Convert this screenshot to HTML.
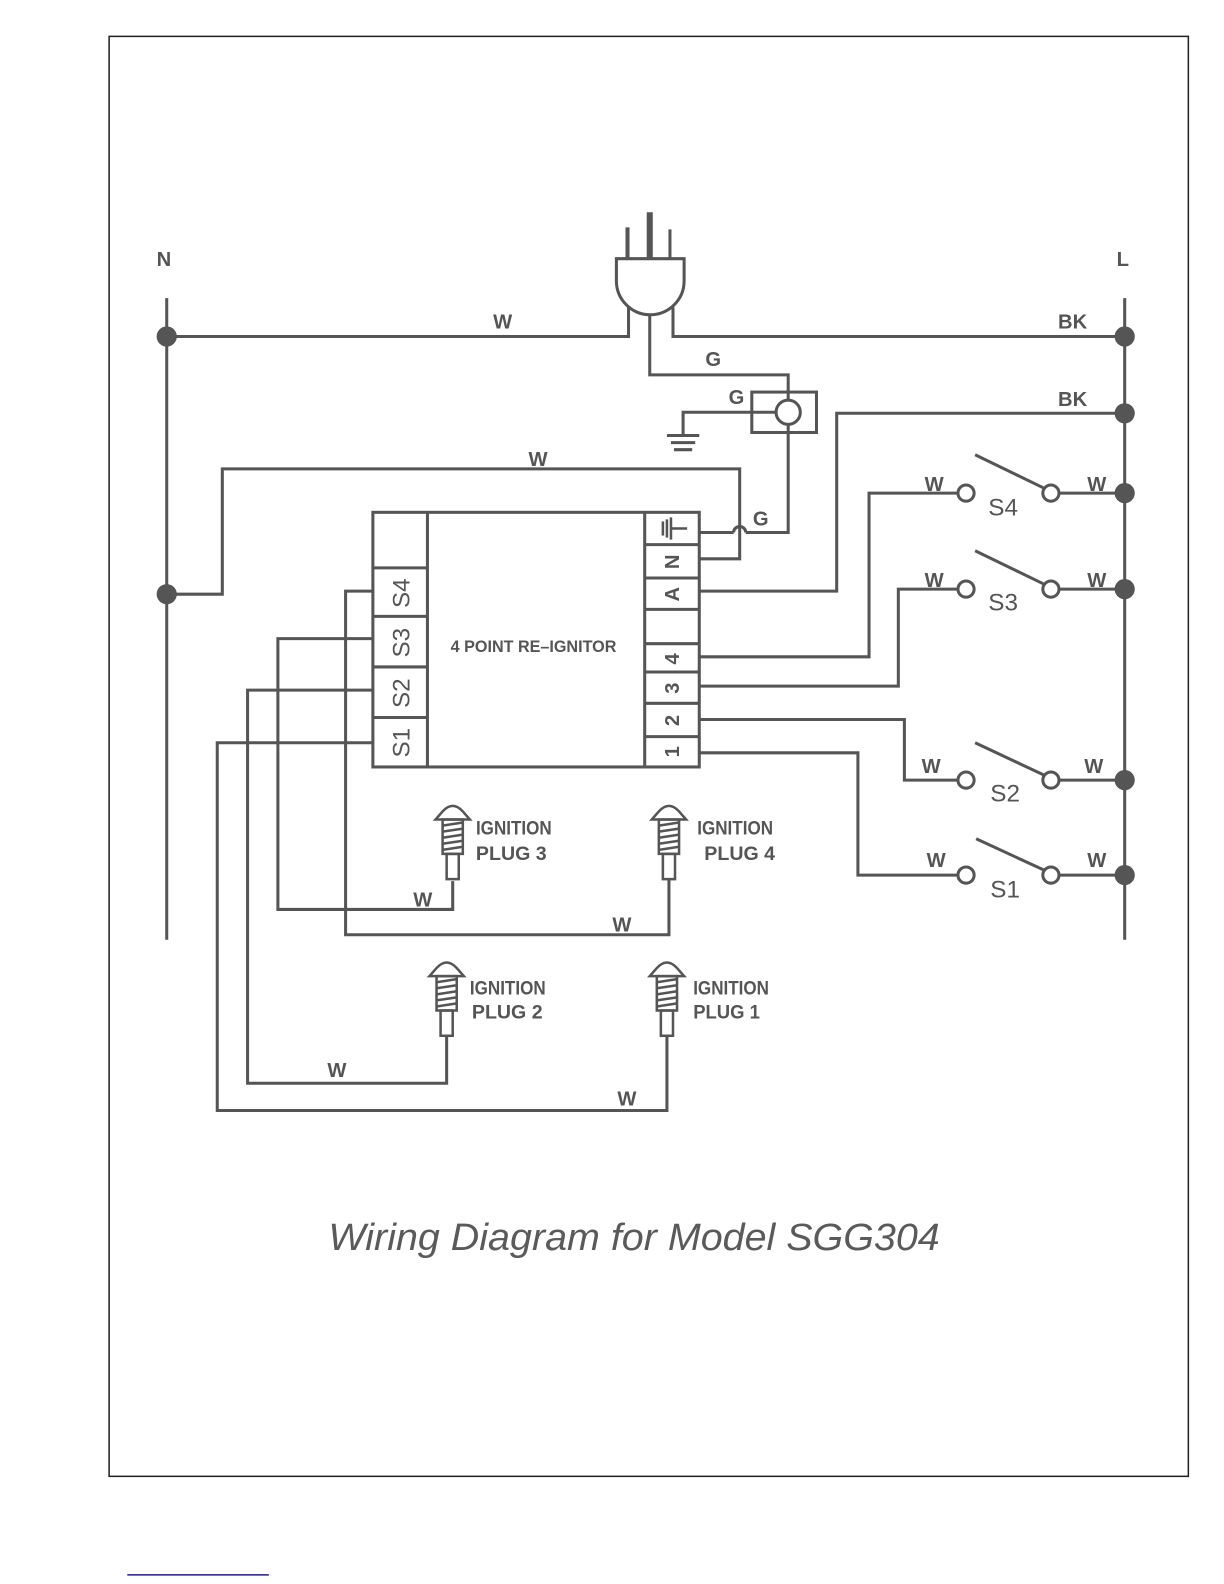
<!DOCTYPE html>
<html><head><meta charset="utf-8"><style>
html,body{margin:0;padding:0;background:#fff;}
svg{display:block;}
text{font-family:"Liberation Sans",sans-serif;font-weight:bold;fill:#555;}
</style></head><body>
<svg width="1224" height="1584" viewBox="0 0 1224 1584" xmlns="http://www.w3.org/2000/svg">
<defs>
<g id="plg" stroke="#555" stroke-width="2.5" fill="none">
<path d="M-10,5 Q0,-6 10,5 L17,13 L-17,13 Z" fill="#fff"/>
<rect x="-10" y="13" width="20" height="34"/>
<path d="M-10,19 L10,16 M-10,25 L10,22 M-10,31 L10,28 M-10,37 L10,34 M-10,43 L10,40"/>
<rect x="-6" y="47" width="12" height="25"/>
</g>
</defs>
<g transform="scale(1.0105)">
<rect x="108" y="36" width="1068" height="1425" fill="none" stroke="#222" stroke-width="1.5"/>
<line x1="126" y1="1558.5" x2="266" y2="1558.5" stroke="#1c1c88" stroke-width="1.5"/>
<g stroke="#555" stroke-width="3" fill="none">
<line x1="165" y1="295" x2="165" y2="930"/>
<line x1="1113" y1="295" x2="1113" y2="930"/>
<line x1="621" y1="225" x2="621" y2="256" stroke-width="4"/>
<line x1="643" y1="210" x2="643" y2="256" stroke-width="6"/>
<line x1="663" y1="227" x2="663" y2="256" stroke-width="3"/>
<path d="M610,256 H677 V278 A33.5,33.5 0 0 1 610,278 Z"/>
<polyline points="622,304 622,333 165,333"/>
<polyline points="666,304 666,333 1113,333"/>
<polyline points="643,312 643,371 780,371 780,396"/>
<rect x="744" y="388" width="64" height="40"/>
<circle cx="780" cy="408" r="12"/>
<polyline points="768,408 676,408 676,430"/>
<line x1="660" y1="431" x2="692" y2="431"/>
<line x1="664" y1="438" x2="688" y2="438"/>
<line x1="667" y1="445" x2="685" y2="445"/>
<polyline points="780,420 780,527 738,527"/>
<path d="M738,527 A6,6 0 0 0 726,527"/>
<line x1="726" y1="527" x2="692" y2="527"/>
<polyline points="165,588 220,588 220,464 732,464 732,553 692,553"/>
<polyline points="1113,409 828,409 828,585 692,585"/>
<rect x="369" y="507" width="323" height="252"/>
<line x1="423" y1="507" x2="423" y2="759"/>
<line x1="638" y1="507" x2="638" y2="759"/>
<line x1="369" y1="562" x2="423" y2="562"/>
<line x1="369" y1="610" x2="423" y2="610"/>
<line x1="369" y1="660" x2="423" y2="660"/>
<line x1="369" y1="710" x2="423" y2="710"/>
<line x1="638" y1="539" x2="692" y2="539"/>
<line x1="638" y1="572" x2="692" y2="572"/>
<line x1="638" y1="603" x2="692" y2="603"/>
<line x1="638" y1="637" x2="692" y2="637"/>
<line x1="638" y1="665" x2="692" y2="665"/>
<line x1="638" y1="696" x2="692" y2="696"/>
<line x1="638" y1="729" x2="692" y2="729"/>
<polyline points="692,650 860,650 860,488 948,488"/>
<polyline points="692,679 889,679 889,583 948,583"/>
<polyline points="692,712 895,712 895,772 948,772"/>
<polyline points="692,745 849,745 849,866 948,866"/>
<circle cx="956" cy="488" r="8"/><circle cx="1040" cy="488" r="8"/><line x1="1048" y1="488" x2="1113" y2="488"/><line x1="1033" y1="483" x2="965" y2="450"/>
<circle cx="956" cy="583" r="8"/><circle cx="1040" cy="583" r="8"/><line x1="1048" y1="583" x2="1113" y2="583"/><line x1="1033" y1="578" x2="965" y2="545"/>
<circle cx="956" cy="772" r="8"/><circle cx="1040" cy="772" r="8"/><line x1="1048" y1="772" x2="1113" y2="772"/><line x1="1033" y1="767" x2="965" y2="735"/>
<circle cx="956" cy="866" r="8"/><circle cx="1040" cy="866" r="8"/><line x1="1048" y1="866" x2="1113" y2="866"/><line x1="1033" y1="861" x2="966" y2="830"/>
<polyline points="369,585 342,585 342,925 662,925 662,870"/>
<polyline points="369,632 275,632 275,900 448,900 448,872"/>
<polyline points="369,683 245,683 245,1072 442,1072 442,1025"/>
<polyline points="369,735 215,735 215,1099 660,1099 660,1025"/>
</g>
<g fill="#555">
<circle cx="165" cy="333" r="10"/><circle cx="165" cy="588" r="10"/>
<circle cx="1113" cy="333" r="10"/><circle cx="1113" cy="409" r="10"/><circle cx="1113" cy="488" r="10"/>
<circle cx="1113" cy="583" r="10"/><circle cx="1113" cy="772" r="10"/><circle cx="1113" cy="866" r="10"/>
</g>
<use href="#plg" x="448" y="798"/>
<use href="#plg" x="662" y="798"/>
<use href="#plg" x="442" y="953"/>
<use href="#plg" x="660" y="953"/>
<g font-size="19">
<text x="471" y="826" textLength="75" lengthAdjust="spacingAndGlyphs">IGNITION</text>
<text x="471" y="851" textLength="70" lengthAdjust="spacingAndGlyphs">PLUG 3</text>
<text x="690" y="826" textLength="75" lengthAdjust="spacingAndGlyphs">IGNITION</text>
<text x="697" y="851" textLength="70" lengthAdjust="spacingAndGlyphs">PLUG 4</text>
<text x="465" y="984" textLength="75" lengthAdjust="spacingAndGlyphs">IGNITION</text>
<text x="467" y="1008" textLength="70" lengthAdjust="spacingAndGlyphs">PLUG 2</text>
<text x="686" y="984" textLength="75" lengthAdjust="spacingAndGlyphs">IGNITION</text>
<text x="686" y="1008" textLength="66" lengthAdjust="spacingAndGlyphs">PLUG 1</text>
</g>
<text x="446" y="645" font-size="16" textLength="164" lengthAdjust="spacingAndGlyphs">4 POINT RE–IGNITOR</text>
<g font-size="24">
<text transform="translate(405,587) rotate(-90)" text-anchor="middle" style="font-weight:normal">S4</text>
<text transform="translate(405,636) rotate(-90)" text-anchor="middle" style="font-weight:normal">S3</text>
<text transform="translate(405,686) rotate(-90)" text-anchor="middle" style="font-weight:normal">S2</text>
<text transform="translate(405,735) rotate(-90)" text-anchor="middle" style="font-weight:normal">S1</text>
<text transform="translate(672,556) rotate(-90)" text-anchor="middle" font-size="20">N</text>
<text transform="translate(672,588) rotate(-90)" text-anchor="middle" font-size="20">A</text>
<text transform="translate(672,652) rotate(-90)" text-anchor="middle" font-size="20">4</text>
<text transform="translate(672,681) rotate(-90)" text-anchor="middle" font-size="20">3</text>
<text transform="translate(672,713) rotate(-90)" text-anchor="middle" font-size="20">2</text>
<text transform="translate(672,744) rotate(-90)" text-anchor="middle" font-size="20">1</text>
</g>
<g stroke="#555" stroke-width="2.5">
<line x1="665" y1="523" x2="680" y2="523"/>
<line x1="656" y1="516" x2="656" y2="530"/><line x1="660" y1="514" x2="660" y2="532"/><line x1="664" y1="512" x2="664" y2="534"/>
</g>
<g font-size="20">
<text x="155" y="263">N</text>
<text x="1105" y="263">L</text>
<text x="488" y="325">W</text>
<text x="1047" y="325">BK</text>
<text x="1047" y="402">BK</text>
<text x="698" y="362">G</text>
<text x="721" y="400">G</text>
<text x="745" y="520">G</text>
<text x="523" y="461">W</text>
<text x="915" y="486">W</text>
<text x="1076" y="486">W</text>
<text x="915" y="581">W</text>
<text x="1076" y="581">W</text>
<text x="912" y="765">W</text>
<text x="1073" y="765">W</text>
<text x="917" y="858">W</text>
<text x="1076" y="858">W</text>
<text x="409" y="897">W</text>
<text x="606" y="922">W</text>
<text x="324" y="1066">W</text>
<text x="611" y="1094">W</text>
</g>
<g font-size="24">
<text x="978" y="510" style="font-weight:normal">S4</text>
<text x="978" y="604" style="font-weight:normal">S3</text>
<text x="980" y="793" style="font-weight:normal">S2</text>
<text x="980" y="888" style="font-weight:normal">S1</text>
</g>
<text x="325" y="1237" font-size="38" font-style="italic" textLength="605" lengthAdjust="spacingAndGlyphs" style="font-weight:normal;fill:#5a5a5a">Wiring Diagram for Model SGG304</text>
</g>
</svg>
</body></html>
